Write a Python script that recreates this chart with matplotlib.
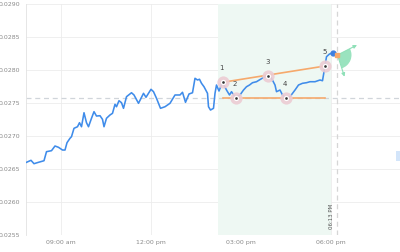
import matplotlib
matplotlib.use("Agg")
import matplotlib.pyplot as plt
from matplotlib.patches import Wedge, Rectangle
from matplotlib.transforms import ScaledTranslation

times = ["07:51", "08:00", "08:06", "08:15", "08:26", "08:31", "08:41", "08:48", "08:55", "09:03",
         "09:08", "09:12", "09:18", "09:21", "09:26", "09:33", "09:37", "09:41", "09:46", "09:51",
         "09:55", "10:01", "10:06", "10:11", "10:18", "10:23", "10:26", "10:31", "10:38", "10:43",
         "10:48", "10:51", "10:56", "11:01", "11:05", "11:11", "11:21", "11:26", "11:35", "11:45",
         "11:50", "12:00", "12:05", "12:11", "12:19", "12:28", "12:38", "12:48", "12:58", "13:03",
         "13:09", "13:16", "13:23", "13:28", "13:33", "13:37", "13:41", "13:46", "13:53", "13:55",
         "13:59", "14:05", "14:08", "14:11", "14:16", "14:23", "14:31", "14:37", "14:41", "14:49",
         "14:58", "15:05", "15:11", "15:17", "15:23", "15:31", "15:39", "15:48", "15:54", "16:01",
         "16:08", "16:11", "16:18", "16:23", "16:29", "16:38", "16:48", "16:55", "17:03", "17:11",
         "17:18", "17:28", "17:38", "17:43", "17:48", "17:51", "17:57", "18:01", "18:04"]
prices = [0.026594, 0.026624, 0.026573, 0.026594, 0.026618, 0.026755, 0.026770, 0.026841, 0.026821, 0.026780,
          0.026780, 0.026891, 0.026958, 0.026982, 0.027109, 0.027133, 0.027194, 0.027133, 0.027345, 0.027194,
          0.027133, 0.027261, 0.027361, 0.027295, 0.027300, 0.027245, 0.027133, 0.027261, 0.027311, 0.027336,
          0.027473, 0.027436, 0.027527, 0.027497, 0.027412, 0.027588, 0.027648, 0.027614, 0.027488, 0.027639,
          0.027579, 0.027700, 0.027664, 0.027564, 0.027412, 0.027436, 0.027488, 0.027614, 0.027614, 0.027655,
          0.027503, 0.027629, 0.027648, 0.027867, 0.027841, 0.027852, 0.027791, 0.027739, 0.027639, 0.027436,
          0.027386, 0.027412, 0.027639, 0.027765, 0.027674, 0.027806, 0.027689, 0.027614, 0.027664, 0.027573,
          0.027614, 0.027689, 0.027739, 0.027765, 0.027800, 0.027815, 0.027852, 0.027891, 0.027906, 0.027867,
          0.027765, 0.027664, 0.027689, 0.027614, 0.027573, 0.027588, 0.027689, 0.027765, 0.027791, 0.027800,
          0.027815, 0.027815, 0.027841, 0.027830, 0.028053, 0.028194, 0.028235, 0.028245, 0.028245]

pattern_labels = ["1", "2", "3", "4", "5"]
pattern_times = ["14:23", "14:49", "15:54", "16:29", "17:48"]
pattern_prices = [0.027806, 0.027573, 0.027906, 0.027573, 0.028053]

zone_start, zone_end = "14:14", "18:00"
ref_price = 0.027573
now_time = "18:13"
now_label = "06:13 PM"
fan_origin_price = 0.028220
fan_end_times = ["18:52", "18:27"]
fan_end_prices = [0.028371, 0.027891]

x_ticks = ["09:00", "12:00", "15:00", "18:00"]
x_tick_labels = ["09:00 am", "12:00 pm", "03:00 pm", "06:00 pm"]
y_ticks = [0.0255, 0.0260, 0.0265, 0.0270, 0.0275, 0.0280, 0.0285, 0.0290]


def h(t):
    hh, mm = t.split(":")
    return int(hh) + int(mm) / 60.0


fig = plt.figure(figsize=(4.0, 2.52), dpi=100)
ax = fig.add_axes([0.065, 0.0694, 0.935, 0.9167])
ax.set_xlim(h("07:50"), h("20:18"))
ax.set_ylim(0.0255, 0.0290)

grid_c = "#ececec"
for yt in y_ticks:
    ax.axhline(yt, color=grid_c, lw=0.6, zorder=0)
for xt in x_ticks:
    ax.axvline(h(xt), color=grid_c, lw=0.6, zorder=0)

ax.axvspan(h(zone_start), h(zone_end), color="#eef8f3", zorder=0.5, lw=0)
ax.axhline(ref_price, color="#d0d5da", lw=0.9, ls=(0, (4, 3)), zorder=1)
ax.axvline(h(now_time), color="#d6d6d6", lw=0.9, ls=(0, (4, 3)), zorder=1)

xs = [h(t) for t in times]
ax.plot(xs, prices, color="#3f8cea", lw=1.15, zorder=3, solid_joinstyle="round")
ax.plot(xs[-1], prices[-1], "o", color="#3d7fe0", ms=3.5, zorder=6)

px = [h(t) for t in pattern_times]
# upper trend line (1 -> 5) and lower support line at level of 2/4
ax.plot([px[0], px[4]], [pattern_prices[0], pattern_prices[4]], color="#f6a96c", lw=1.2, zorder=4)
ax.plot([px[0], px[4]], [pattern_prices[1], pattern_prices[3]], color="#f6a96c", lw=1.2, zorder=4)

for lab, x, y in zip(pattern_labels, px, pattern_prices):
    ax.plot(x, y, "o", ms=8.8, color="#ecccd3", alpha=0.9, mec="none", zorder=5)
    ax.plot(x, y, "o", ms=3.8, color="white", mec="none", zorder=5.1)
    ax.plot(x, y, "o", ms=1.9, color="#333333", mec="none", zorder=5.2)
    ax.annotate(lab, (x, y), xytext=(-0.5, 8), textcoords="offset points",
                ha="center", va="bottom", fontsize=5, color="#444444", zorder=6)

# fan projection
fx0, fy0 = h(now_time), fan_origin_price
off = ScaledTranslation(fx0, fy0, ax.transData)
wedge = Wedge((0, 0), 0.14, -71.4, 26.9, transform=fig.dpi_scale_trans + off,
              facecolor="#8fe0b8", edgecolor="none", alpha=0.9, zorder=4)
ax.add_patch(wedge)
for et, ep in zip(fan_end_times, fan_end_prices):
    ax.annotate("", xy=(h(et), ep), xytext=(fx0, fy0),
                arrowprops=dict(arrowstyle="-|>", color="#8fe0b8", lw=0.8,
                                mutation_scale=5, shrinkA=0, shrinkB=0), zorder=4)
ax.plot(fx0, fy0, "s", ms=2.5, color="#f6a96c", zorder=6)

ax.text(h(now_time) - 0.1, 0.02558, now_label, rotation=90, ha="right", va="bottom",
        fontsize=3.9, color="#555555")

ax.add_patch(Rectangle((0.99, 0.318), 0.012, 0.043, transform=ax.transAxes,
                       facecolor="#d3e5fa", edgecolor="none", clip_on=False, zorder=6))

ax.set_xticks([h(t) for t in x_ticks])
ax.set_xticklabels(x_tick_labels)
ax.set_yticks(y_ticks)
ax.set_yticklabels([f"{v:.4f}" for v in y_ticks])
ax.tick_params(length=0, labelsize=4.5, labelcolor="#8a8a8a", pad=4)
for s in ["top", "right", "bottom"]:
    ax.spines[s].set_visible(False)
ax.spines["left"].set_color("#e2e2e2")
ax.spines["left"].set_linewidth(0.6)

fig.savefig("out.png", dpi=100)
